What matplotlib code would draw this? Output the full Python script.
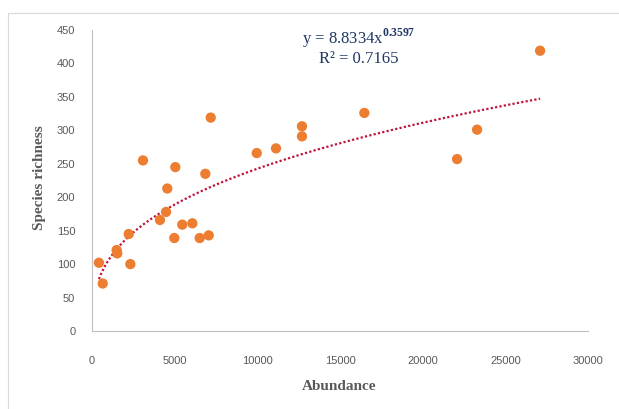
import numpy as np
import matplotlib
matplotlib.use('Agg')
import matplotlib.pyplot as plt
from matplotlib.patches import Rectangle

# Dados
abundancia = [420, 650, 1490, 1530, 2220, 2320, 3085, 4110, 4480, 4555, 4980,
              5040, 5460, 6070, 6515, 6855, 7060, 7180, 9965, 11130, 12700,
              12700, 16470, 22080, 23290, 27100]
riqueza = [102, 71, 121, 116, 145, 100, 255, 166, 178, 213, 139,
           245, 159, 161, 139, 235, 143, 319, 266, 273, 306,
           291, 326, 257, 301, 419]

# Coeficientes da linha de tendência (potência)
coef_a = 8.8334
coef_b = 0.3597
r2 = 0.7165

x_ticks = [0, 5000, 10000, 15000, 20000, 25000, 30000]
y_ticks = [0, 50, 100, 150, 200, 250, 300, 350, 400, 450]

plt.rcParams['mathtext.fontset'] = 'custom'
plt.rcParams['mathtext.rm'] = 'Liberation Serif'
plt.rcParams['mathtext.bf'] = 'Liberation Serif:bold'

fig = plt.figure(figsize=(6.19, 4.09), dpi=100)
ax = fig.add_axes([0.1486, 0.1907, 0.8014, 0.736])

# moldura externa (cortada à direita e embaixo)
fig.patches.append(Rectangle((8 / 619, -0.1), 1.2, 1 - 13 / 409 + 0.1,
                             transform=fig.transFigure, fill=False,
                             edgecolor='#d9d9d9', linewidth=0.8))

ax.scatter(abundancia, riqueza, s=55, color='#ED7D31', edgecolors='none', zorder=3)

# Linha de tendência
xs = np.linspace(min(abundancia), max(abundancia), 300)
ax.plot(xs, coef_a * xs ** coef_b, color='#C0143C', linestyle=(0, (1, 1)),
        linewidth=1.6, zorder=2)

ax.set_xlim(0, 30000)
ax.set_ylim(0, 450)
ax.set_xticks(x_ticks)
ax.set_yticks(y_ticks)
ax.tick_params(length=0, labelcolor='#595959', labelsize=8)
ax.tick_params(axis='x', pad=18)
ax.tick_params(axis='y', pad=12)
for lab in ax.get_xticklabels() + ax.get_yticklabels():
    lab.set_family('Liberation Sans')

for s in ['top', 'right']:
    ax.spines[s].set_visible(False)
for s in ['left', 'bottom']:
    ax.spines[s].set_color('#bfbfbf')
    ax.spines[s].set_linewidth(0.8)

fig.text(339 / 619, 1 - 386 / 409, 'Abundance', family='Liberation Serif',
         fontsize=11, fontweight='bold', color='#595959', ha='center', va='center')
fig.text(39 / 619, 1 - 178 / 409, 'Species richness', family='Liberation Serif',
         fontsize=11, fontweight='bold', color='#595959', ha='center', va='center',
         rotation=90)

# equação e R² num único bloco de texto
eq = 'y = %.4fx$^{\\mathbf{%.4f}}$\nR² = %.4f' % (coef_a, coef_b, r2)
fig.text(359 / 619, 1 - 47 / 409, eq, family='Liberation Serif', fontsize=12,
         color='#1F3864', ha='center', va='center', multialignment='center',
         linespacing=1.05)

fig.savefig('out.png', dpi=100)
